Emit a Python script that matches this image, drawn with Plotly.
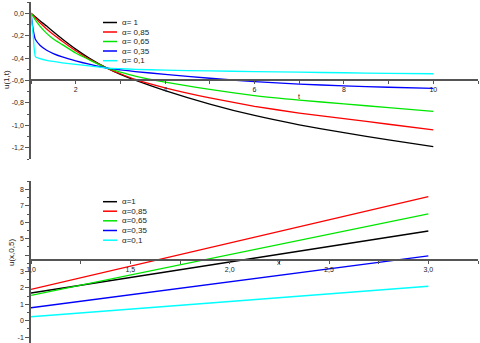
import plotly.graph_objects as go

# upper panel: u(1,t) for several alpha
t = [1, 1.05, 1.1, 1.2, 1.35, 1.5, 1.7, 2, 2.3, 2.7, 3, 3.33, 4, 5, 6, 7, 8, 9, 10]
u_t_a1 = [0, -0.016, -0.033, -0.067, -0.115, -0.165, -0.23, -0.32, -0.40, -0.49, -0.545, -0.597, -0.69, -0.81, -0.912, -0.995, -1.065, -1.13, -1.19]
u_t_a085 = [0, -0.02, -0.042, -0.085, -0.14, -0.19, -0.25, -0.335, -0.41, -0.49, -0.54, -0.59, -0.665, -0.755, -0.83, -0.89, -0.94, -0.99, -1.04]
u_t_a065 = [0, -0.03, -0.062, -0.115, -0.18, -0.23, -0.28, -0.355, -0.415, -0.49, -0.525, -0.56, -0.615, -0.68, -0.735, -0.775, -0.808, -0.842, -0.875]
u_t_a035 = [0, -0.15, -0.235, -0.285, -0.33, -0.36, -0.39, -0.425, -0.455, -0.49, -0.505, -0.52, -0.545, -0.58, -0.61, -0.632, -0.648, -0.66, -0.67]
u_t_a01 = [0, -0.2, -0.39, -0.405, -0.42, -0.43, -0.442, -0.457, -0.47, -0.49, -0.495, -0.50, -0.508, -0.515, -0.52, -0.526, -0.531, -0.536, -0.54]

# lower panel: u(x,0.5)
x = [1, 3]
u_x_a1 = [1.69, 5.47]
u_x_a085 = [1.91, 7.56]
u_x_a065 = [1.55, 6.52]
u_x_a035 = [0.79, 3.95]
u_x_a01 = [0.24, 2.1]

names_top = ["α= 1", "α= 0,85", "α= 0,65", "α= 0,35", "α= 0,1"]
names_bot = ["α=1", "α=0,85", "α=0,65", "α=0,35", "α=0,1"]
colors = ["#000000", "#ff0000", "#00e600", "#0000ff", "#00ffff"]

ytick_top = [0, -0.2, -0.4, -0.6, -0.8, -1.0, -1.2]
ytext_top = ["0,0", "-0,2", "-0,4", "-0,6", "-0,8", "-1,0", "-1,2"]
xtick_top = [2, 4, 6, 8, 10]
ytick_bot = [-1, 0, 1, 2, 3, 4, 5, 6, 7, 8]
ytext_bot = ["-1", "0", "1", "2", "3", "", "5", "6", "7", "8"]
xtick_bot = [1.0, 1.5, 2.0, 2.5, 3.0]
xtext_bot = ["1,0", "1,5", "2,0", "2,5", "3,0"]

W, H = 480, 343
def px(v):
    return v / W
def py(v):
    return 1 - v / H

fig = go.Figure()
for ys, nm, c in zip([u_t_a1, u_t_a085, u_t_a065, u_t_a035, u_t_a01], names_top, colors):
    fig.add_trace(go.Scatter(x=t, y=ys, name=nm, mode="lines",
                             line=dict(color=c, width=1.3, shape="spline", smoothing=0.5),
                             xaxis="x", yaxis="y", showlegend=False))
for ys, nm, c in zip([u_x_a1, u_x_a085, u_x_a065, u_x_a035, u_x_a01], names_bot, colors):
    fig.add_trace(go.Scatter(x=x, y=ys, name=nm, mode="lines", line=dict(color=c, width=1.3),
                             xaxis="x2", yaxis="y2", showlegend=False))

tickfont = dict(family="Liberation Sans", size=7, color="#222222")
axcommon = dict(showgrid=False, zeroline=False, showline=True, linecolor="#555555", linewidth=1.5,
                ticks="outside", tickcolor="#555555", tickwidth=1, ticklen=3, tickfont=tickfont)

fig.update_layout(
    width=W, height=H, template="none",
    margin=dict(l=0, r=0, t=0, b=0, pad=0),
    paper_bgcolor="white", plot_bgcolor="rgba(0,0,0,0)",
    showlegend=False,
    xaxis=dict(axcommon, domain=[px(31), px(478)], range=[1, 11], anchor="free", position=py(80.3),
               tickvals=xtick_top, ticktext=[str(v) for v in xtick_top],
               minor=dict(dtick=1, tick0=1, ticks="outside", ticklen=3, tickcolor="#555555")),
    yaxis=dict(axcommon, domain=[py(159), py(2)], range=[-1.3, 0.1], anchor="x",
               tickvals=ytick_top, ticktext=ytext_top, ticklen=4,
               minor=dict(dtick=0.1, tick0=0, ticks="outside", ticklen=2, tickcolor="#555555")),
    xaxis2=dict(axcommon, domain=[px(31), px(478)], range=[1, 3.25], anchor="free", position=py(260),
                tickvals=xtick_bot, ticktext=xtext_bot,
                minor=dict(dtick=0.25, tick0=1, ticks="outside", ticklen=3, tickcolor="#555555")),
    yaxis2=dict(axcommon, domain=[0, py(181)], range=[-1.36, 8.52], anchor="x2",
                tickvals=ytick_bot, ticktext=ytext_bot, ticklen=4,
                minor=dict(dtick=0.5, tick0=0, ticks="outside", ticklen=2, tickcolor="#555555")),
)

labfont = dict(family="Liberation Sans", size=8, color="#222222")
fig.add_annotation(text="t", x=7, y=py(91), xref="x", yref="paper", showarrow=False, font=tickfont)
fig.add_annotation(text="x", x=2.25, y=py(268), xref="x2", yref="paper", showarrow=False, font=tickfont)
fig.add_annotation(text="u(1,t)", x=px(6), y=py(80), xref="paper", yref="paper", showarrow=False,
                   textangle=-90, xanchor="center", yanchor="middle", font=labfont)
fig.add_annotation(text="u(x,0,5)", x=px(11), y=py(253), xref="paper", yref="paper", showarrow=False,
                   textangle=-90, xanchor="center", yanchor="middle", font=labfont)

# hand-made legends (compact rows like the original)
rows_top = [22.5, 32, 41.5, 51, 60.7]
rows_bot = [201.7, 211.2, 220.8, 230.5, 240.2]
for rows, names in [(rows_top, names_top), (rows_bot, names_bot)]:
    for r, nm, c in zip(rows, names, colors):
        fig.add_shape(type="line", xref="paper", yref="paper", x0=px(103), x1=px(117), y0=py(r), y1=py(r),
                      line=dict(color=c, width=1.5))
        fig.add_annotation(text=nm, x=px(120), y=py(r), xref="paper", yref="paper", showarrow=False,
                           xanchor="left", yanchor="middle", font=labfont)

# the page body has an 8px default margin; drop it so the figure sits at the corner
fig.write_html("out.html", config={"displayModeBar": False},
               post_script="document.body.style.margin='0';")
